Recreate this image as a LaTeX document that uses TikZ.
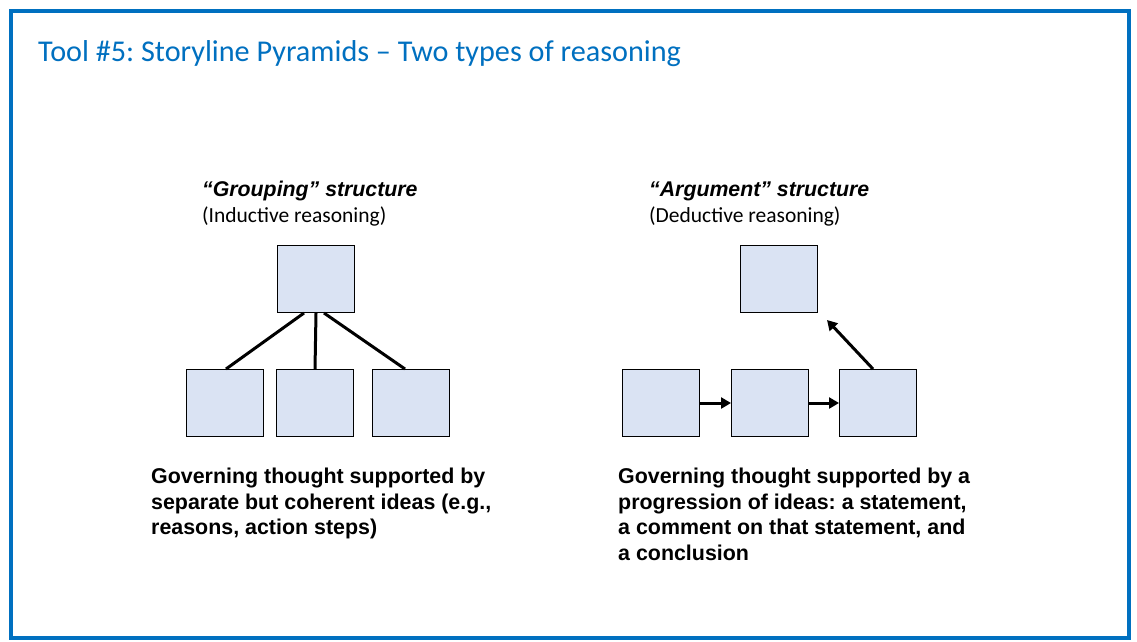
\documentclass[tikz,border=0pt]{standalone}
\usepackage{fontspec}
\setmainfont[Ligatures=TeX]{Liberation Sans}
\newfontfamily\calfont[Ligatures=TeX]{Carlito}
\usetikzlibrary{arrows.meta}
\definecolor{frameblue}{HTML}{0070C0}
\definecolor{boxfill}{HTML}{DAE3F3}
\begin{document}
\frenchspacing
\begin{tikzpicture}[x=1pt,y=-1pt,
  ibox/.style={draw=black,line width=1pt,fill=boxfill,minimum width=77pt,minimum height=67pt,inner sep=0pt,anchor=north west},
  conn/.style={line width=3pt},
  arr/.style={line width=3pt,-{Triangle[length=10pt,width=11pt]}},
  head/.style={anchor=base west,inner sep=0pt,font=\fontsize{21.3}{24}\selectfont\bfseries\itshape},
  sub/.style={anchor=base west,inner sep=0pt,font=\calfont\fontsize{21.5}{24}\selectfont},
  desc/.style={anchor=north west,inner sep=0pt,align=left,font=\fontsize{21.4}{25.5}\selectfont\bfseries}]
\useasboundingbox (0,0) rectangle (1137,642);
\fill[white] (0,0) rectangle (1137,642);
\node[draw=frameblue,line width=4pt,minimum width=1118pt,minimum height=627pt,inner sep=0pt,anchor=north west] (frame) at (9,9) {};
\node[anchor=base west,inner sep=0pt,text=frameblue,font=\calfont\fontsize{30.2}{34}\selectfont] (title) at (38,62) {Tool \#5: Storyline Pyramids – Two types of reasoning};
% left
\node[head] (gh) at (202,196) {“Grouping” structure};
\node[sub] (gs) at (202,222) {(Inductive reasoning)};
\node[ibox] (lt) at (277,245) {};
\node[ibox] (l1) at (186,369) {};
\node[ibox] (l2) at (276,369) {};
\node[ibox] (l3) at (372,369) {};
\draw[conn] ([xshift=-12pt]lt.south) -- ([xshift=1pt]l1.north);
\draw[conn] (lt.south) -- (l2.north);
\draw[conn] ([xshift=8pt]lt.south) -- ([xshift=-6pt]l3.north);
\node[desc] (gd) at (151,468) {Governing thought supported by\\separate but coherent ideas (e.g.,\\reasons, action steps)};
% right
\node[head] (ah) at (649,196) {“Argument” structure};
\node[sub] (as) at (649,222) {(Deductive reasoning)};
\node[ibox] (rt) at (740,245) {};
\node[ibox] (r1) at (622,369) {};
\node[ibox] (r2) at (731,369) {};
\node[ibox] (r3) at (839,369) {};
\draw[arr] (r1.east) -- (r2.west);
\draw[arr] (r2.east) -- (r3.west);
\coordinate (dtip) at (827,320);
\draw[arr] ([xshift=-5pt]r3.north) -- (dtip);
\node[desc] (ad) at (618,468) {Governing thought supported by a\\progression of ideas: a statement,\\a comment on that statement, and\\a conclusion};
\end{tikzpicture}
\end{document}
